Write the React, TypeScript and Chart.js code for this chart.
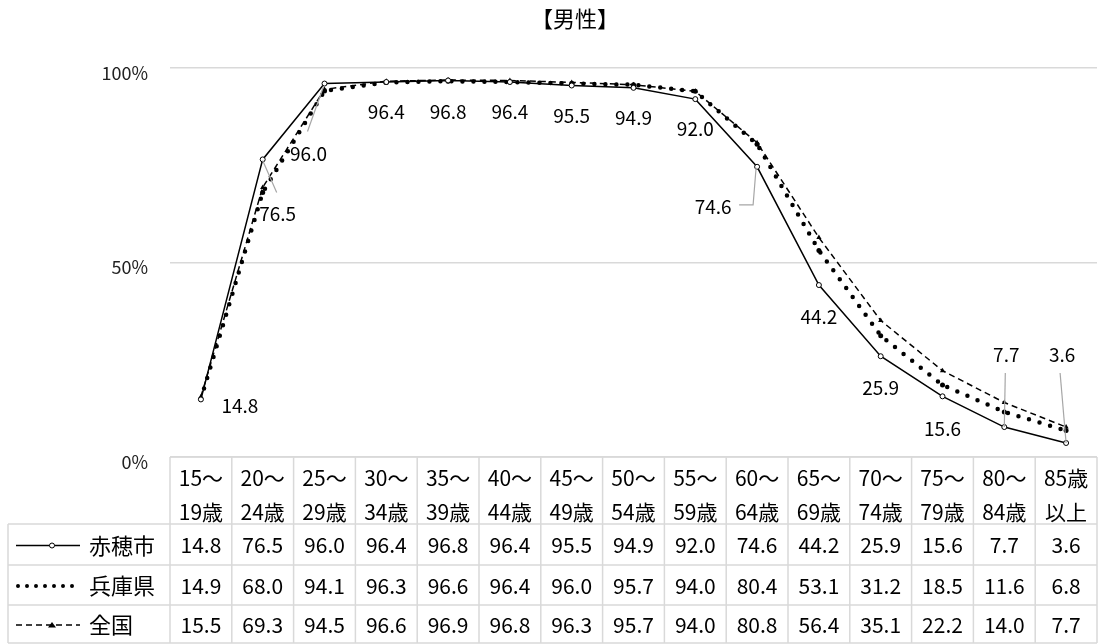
import React, { useEffect, useRef } from "react";
import { Chart, registerables } from "chart.js";

Chart.register(...registerables);

// ---------- data ----------
const titleText = "【男性】";
const categoryTop = ["15～", "20～", "25～", "30～", "35～", "40～", "45～", "50～", "55～", "60～", "65～", "70～", "75～", "80～", "85歳"];
const categoryBottom = ["19歳", "24歳", "29歳", "34歳", "39歳", "44歳", "49歳", "54歳", "59歳", "64歳", "69歳", "74歳", "79歳", "84歳", "以上"];
const seriesNames = ["赤穂市", "兵庫県", "全国"];
const akoValues = [14.8, 76.5, 96.0, 96.4, 96.8, 96.4, 95.5, 94.9, 92.0, 74.6, 44.2, 25.9, 15.6, 7.7, 3.6];
const hyogoValues = [14.9, 68.0, 94.1, 96.3, 96.6, 96.4, 96.0, 95.7, 94.0, 80.4, 53.1, 31.2, 18.5, 11.6, 6.8];
const zenkokuValues = [15.5, 69.3, 94.5, 96.6, 96.9, 96.8, 96.3, 95.7, 94.0, 80.8, 56.4, 35.1, 22.2, 14.0, 7.7];
const yTickValues = [0, 50, 100];

const FONT = '"Noto Sans CJK JP", "Noto Sans", sans-serif';
const GRID = "#d9d9d9";

// label placement (style) for 赤穂市 data labels: offset of label centre and optional leader
type LabelPos = { dx: number; dy: number; leader?: number[][] };
const labelPos: LabelPos[] = [
  { dx: 39, dy: 6 },
  { dx: 15, dy: 54, leader: [[0, 1], [14, 33]] },
  { dx: -16, dy: 70, leader: [[-1, 3], [-17, 48]] },
  { dx: 0, dy: 30 },
  { dx: 0, dy: 31 },
  { dx: 0, dy: 30 },
  { dx: 0, dy: 30 },
  { dx: 0, dy: 30 },
  { dx: 0, dy: 30 },
  { dx: -44, dy: 40, leader: [[-1, 1], [-4, 38], [-18, 38]] },
  { dx: 0, dy: 32 },
  { dx: 0, dy: 32 },
  { dx: 0, dy: 32 },
  { dx: 2, dy: -72, leader: [[0, 0], [1, -54]] },
  { dx: -4, dy: -88, leader: [[0, 0], [-6, -70]] },
];

const datasetStyles = [
  { width: 1.5, dash: [] as number[], cap: "butt" as CanvasLineCap },
  { width: 4.5, dash: [0, 11], cap: "round" as CanvasLineCap },
  { width: 1.5, dash: [6, 4], cap: "butt" as CanvasLineCap },
];

const overlayPlugin = {
  id: "overlay",
  afterDatasetsDraw(chart: any) {
    const ctx: CanvasRenderingContext2D = chart.ctx;
    const meta = chart.getDatasetMeta(0);
    ctx.save();
    // leaders
    ctx.strokeStyle = "#a6a6a6";
    ctx.lineWidth = 1.2;
    meta.data.forEach((pt: any, i: number) => {
      const lp = labelPos[i];
      if (!lp || !lp.leader) return;
      ctx.beginPath();
      lp.leader.forEach((p, k) => {
        const px = pt.x + p[0];
        const py = pt.y + p[1];
        if (k === 0) ctx.moveTo(px, py);
        else ctx.lineTo(px, py);
      });
      ctx.stroke();
    });
    // labels
    ctx.fillStyle = "#000";
    ctx.font = `19px ${FONT}`;
    ctx.textAlign = "center";
    ctx.textBaseline = "middle";
    meta.data.forEach((pt: any, i: number) => {
      const lp = labelPos[i];
      ctx.fillText(akoValues[i].toFixed(1), pt.x + lp.dx, pt.y + lp.dy);
    });
    ctx.restore();
  },
  afterDraw(chart: any) {
    const ctx: CanvasRenderingContext2D = chart.ctx;
    const area = chart.chartArea;
    const xs = chart.scales.x;
    const n = categoryTop.length;
    const colW = (area.right - area.left) / n;
    const top = area.bottom;
    const headerBottom = top + 67;
    const rowBottoms = [headerBottom + 41, headerBottom + 81, chart.height - 1];
    const legendLeft = 8;

    ctx.save();
    // title
    ctx.fillStyle = "#000";
    ctx.font = `22px ${FONT}`;
    ctx.textAlign = "center";
    ctx.textBaseline = "middle";
    ctx.fillText(titleText, 575, 19);

    // grid of table
    ctx.strokeStyle = GRID;
    ctx.lineWidth = 1.5;
    ctx.setLineDash([]);
    ctx.beginPath();
    ctx.moveTo(area.left, top);
    ctx.lineTo(area.right, top);
    [headerBottom, ...rowBottoms].forEach((y) => {
      ctx.moveTo(legendLeft, y);
      ctx.lineTo(area.right, y);
    });
    ctx.moveTo(legendLeft, headerBottom);
    ctx.lineTo(legendLeft, rowBottoms[2]);
    for (let i = 0; i <= n; i++) {
      const x = area.left + i * colW;
      ctx.moveTo(x, top);
      ctx.lineTo(x, rowBottoms[2]);
    }
    ctx.stroke();

    // header text
    ctx.fillStyle = "#000";
    ctx.font = `21px ${FONT}`;
    ctx.textAlign = "center";
    ctx.textBaseline = "middle";
    for (let i = 0; i < n; i++) {
      const cx = xs.getPixelForValue(i);
      ctx.fillText(categoryTop[i], cx, top + 21);
      ctx.fillText(categoryBottom[i], cx, top + 55);
    }

    // rows
    const allValues = [akoValues, hyogoValues, zenkokuValues];
    const rowTops = [headerBottom, rowBottoms[0], rowBottoms[1]];
    allValues.forEach((vals, r) => {
      const cy = (rowTops[r] + rowBottoms[r]) / 2 + 1;
      // legend sample
      const st = datasetStyles[r];
      ctx.strokeStyle = "#000";
      ctx.lineWidth = r === 1 ? 4 : st.width;
      ctx.lineCap = st.cap;
      ctx.setLineDash(r === 1 ? [0, 9] : st.dash);
      ctx.beginPath();
      ctx.moveTo(r === 1 ? 18 : 16, cy);
      ctx.lineTo(80, cy);
      ctx.stroke();
      ctx.setLineDash([]);
      ctx.lineCap = "butt";
      if (r === 0) {
        ctx.beginPath();
        ctx.arc(52, cy, 2.5, 0, Math.PI * 2);
        ctx.fillStyle = "#fff";
        ctx.fill();
        ctx.lineWidth = 1;
        ctx.stroke();
      } else if (r === 2) {
        ctx.beginPath();
        ctx.moveTo(48, cy + 2.5);
        ctx.lineTo(52, cy - 3);
        ctx.lineTo(56, cy + 2.5);
        ctx.closePath();
        ctx.fillStyle = "#000";
        ctx.fill();
      }
      ctx.fillStyle = "#000";
      ctx.font = `22px ${FONT}`;
      ctx.textAlign = "left";
      ctx.fillText(seriesNames[r], 89, cy);
      ctx.font = `21px ${FONT}`;
      ctx.textAlign = "center";
      vals.forEach((v, i) => {
        ctx.fillText(v.toFixed(1), xs.getPixelForValue(i), cy);
      });
    });
    ctx.restore();
  },
};

export default function App() {
  const ref = useRef<HTMLCanvasElement>(null);
  useEffect(() => {
    const canvas = ref.current!;
    const chart = new Chart(canvas, {
      type: "line",
      data: {
        labels: categoryTop.map((t, i) => t + categoryBottom[i]),
        datasets: [
          {
            label: seriesNames[0],
            data: akoValues,
            borderColor: "#000",
            borderWidth: 1.5,
            pointStyle: "circle",
            pointRadius: 2.5,
            pointBackgroundColor: "#fff",
            pointBorderColor: "#000",
            pointBorderWidth: 1,
            order: 0,
          },
          {
            label: seriesNames[1],
            data: hyogoValues,
            borderColor: "#000",
            borderWidth: 4.5,
            borderDash: [0, 11],
            borderCapStyle: "round",
            pointStyle: "circle",
            pointRadius: 2.5,
            pointBackgroundColor: "#000",
            pointBorderColor: "#000",
            pointBorderWidth: 0,
            order: 1,
          },
          {
            label: seriesNames[2],
            data: zenkokuValues,
            borderColor: "#000",
            borderWidth: 1.5,
            borderDash: [6, 4],
            pointStyle: "triangle",
            pointRadius: 3,
            pointBackgroundColor: "#000",
            pointBorderColor: "#000",
            pointBorderWidth: 0,
            order: 2,
          },
        ],
      },
      options: {
        responsive: false,
        animation: false,
        layout: { padding: { left: 100, right: 2, top: 68, bottom: 187 } },
        plugins: {
          legend: { display: false },
          tooltip: { enabled: false },
          title: { display: false },
        },
        scales: {
          x: { display: false, offset: true },
          y: {
            min: 0,
            max: 100,
            afterFit: (s: any) => {
              s.width = 70;
            },
            afterBuildTicks: (s: any) => {
              s.ticks = yTickValues.map((v) => ({ value: v }));
            },
            ticks: {
              padding: 22,
              labelOffset: 5,
              callback: (v: any) => v + "%",
              font: { family: FONT, size: 18 },
              color: "#222",
            },
            grid: { color: GRID, lineWidth: 1.5, drawTicks: false },
            border: { display: false },
          },
        },
      },
      plugins: [overlayPlugin],
    } as any);
    return () => chart.destroy();
  }, []);
  return (
    <div style={{ position: "absolute", left: 0, top: 0, width: 1102, height: 644, background: "#fff" }}>
      <canvas ref={ref} width={1102} height={644} />
    </div>
  );
}
